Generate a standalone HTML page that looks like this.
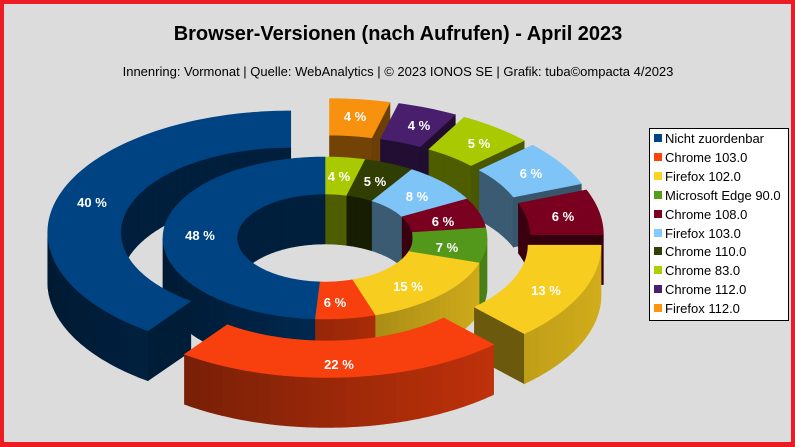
<!DOCTYPE html>
<html><head><meta charset="utf-8"><style>
html,body{margin:0;padding:0;background:#dcdcdc;}
svg{display:block;font-family:"Liberation Sans",sans-serif;}
</style></head><body>
<svg id="s" width="795" height="447" xmlns="http://www.w3.org/2000/svg">
<rect x="0" y="0" width="795" height="447" fill="#dcdcdc"/>
<g id="chart"></g>
<g id="labels" font-weight="bold" font-size="13" fill="#fff" text-anchor="middle">
<text x="92" y="207">40 %</text>
<text x="339" y="369">22 %</text>
<text x="546" y="295">13 %</text>
<text x="563" y="221">6 %</text>
<text x="531" y="178">6 %</text>
<text x="479" y="148">5 %</text>
<text x="419" y="130">4 %</text>
<text x="355" y="121">4 %</text>
<text x="200" y="240">48 %</text>
<text x="335" y="307">6 %</text>
<text x="408" y="291">15 %</text>
<text x="447" y="252">7 %</text>
<text x="443" y="226">6 %</text>
<text x="417" y="201">8 %</text>
<text x="375" y="186">5 %</text>
<text x="339" y="181">4 %</text>
</g>
<text x="398" y="40" text-anchor="middle" font-size="20" font-weight="bold" fill="#000">Browser-Versionen (nach Aufrufen) - April 2023</text>
<text x="398" y="76" text-anchor="middle" font-size="13" fill="#000">Innenring: Vormonat | Quelle: WebAnalytics | © 2023 IONOS SE | Grafik: tuba©ompacta 4/2023</text>
<rect x="649.5" y="128.5" width="139" height="192" fill="#fff" stroke="#000" stroke-width="1"/>
<g font-size="13" fill="#000">
<rect x="654" y="134" width="8" height="8" fill="#004586"/><text x="665" y="143">Nicht zuordenbar</text>
<rect x="654" y="153" width="8" height="8" fill="#ff420e"/><text x="665" y="162">Chrome 103.0</text>
<rect x="654" y="172" width="8" height="8" fill="#ffd320"/><text x="665" y="181">Firefox 102.0</text>
<rect x="654" y="191" width="8" height="8" fill="#579d1c"/><text x="665" y="200">Microsoft Edge 90.0</text>
<rect x="654" y="210" width="8" height="8" fill="#7e0021"/><text x="665" y="219">Chrome 108.0</text>
<rect x="654" y="229" width="8" height="8" fill="#83caff"/><text x="665" y="238">Firefox 103.0</text>
<rect x="654" y="247" width="8" height="8" fill="#314004"/><text x="665" y="256">Chrome 110.0</text>
<rect x="654" y="266" width="8" height="8" fill="#aecf00"/><text x="665" y="275">Chrome 83.0</text>
<rect x="654" y="285" width="8" height="8" fill="#4b1f6f"/><text x="665" y="294">Chrome 112.0</text>
<rect x="654" y="304" width="8" height="8" fill="#ff950e"/><text x="665" y="313">Firefox 112.0</text>
</g>
<rect x="2" y="2" width="791" height="442" fill="none" stroke="#ed1c24" stroke-width="4"/>
<rect x="0" y="443" width="795" height="4" fill="#ed1c24"/>
</svg>
<script>
(function(){
var G=document.getElementById('chart');var NS="http://www.w3.org/2000/svg";
var CX=325,CY=238,D=50;
function rgb(h){return [parseInt(h.substr(1,2),16),parseInt(h.substr(3,2),16),parseInt(h.substr(5,2),16)];}
function sh(h,f){var c=rgb(h);return 'rgb('+c.map(function(v){return Math.max(0,Math.min(255,Math.round(v*f)));}).join(',')+')';}
function P(cx,cy,r,t,dz){var a=t*Math.PI/180;return [cx+r*Math.sin(a),cy-r*0.5*Math.cos(a)+dz];}
function poly(pts,fill){var e=document.createElementNS(NS,'polygon');e.setAttribute('points',pts.map(function(p){return p[0].toFixed(2)+','+p[1].toFixed(2);}).join(' '));e.setAttribute('fill',fill);e.setAttribute('stroke',fill);e.setAttribute('stroke-width','0.6');G.appendChild(e);}
function arc(cx,cy,r,t1,t2,dz){var n=Math.max(2,Math.ceil(Math.abs(t2-t1)));var a=[];for(var i=0;i<=n;i++){a.push(P(cx,cy,r,t1+(t2-t1)*i/n,dz));}return a;}
function wall(cx,cy,r,t1,t2,col,outer){
  var lo,hi;
  if(outer){lo=Math.max(t1,90);hi=Math.min(t2,270);segs(lo,hi);}
  else{segs(Math.max(t1,-90),Math.min(t2,90));segs(Math.max(t1,270),Math.min(t2,450));}
  function segs(a,b){if(b<=a)return;var st=3;for(var t=a;t<b;t+=st){var u=Math.min(b,t+st);var m=(t+u)/2;
    var f=outer?(0.6+0.22*Math.sin(m*Math.PI/180)):0.45;
    var top=arc(cx,cy,r,t,u,0);var bot=arc(cx,cy,r,u,t,D);poly(top.concat(bot),sh(col,f));}}
}
function cut(cx,cy,ri,ro,t,col){var a=P(cx,cy,ri,t,0),b=P(cx,cy,ro,t,0);poly([a,b,[b[0],b[1]+D],[a[0],a[1]+D]],sh(col,0.42));}
function top(cx,cy,ri,ro,t1,t2,col){poly(arc(cx,cy,ro,t1,t2,0).concat(arc(cx,cy,ri,t2,t1,0)),sh(col,0.97));}
function slice(cx,cy,ri,ro,t1,t2,col,cs,ce){
  wall(cx,cy,ri,t1,t2,col,false);
  if(cs&&Math.sin(t1*Math.PI/180)<0)cut(cx,cy,ri,ro,t1,col);
  if(ce&&Math.sin(t2*Math.PI/180)>0)cut(cx,cy,ri,ro,t2,col);
  wall(cx,cy,ro,t1,t2,col,true);
  top(cx,cy,ri,ro,t1,t2,col);
}
var C={n:'#004586',c103:'#ff420e',f102:'#ffd320',e90:'#579d1c',c108:'#7e0021',f103:'#83caff',c110:'#314004',c83:'#aecf00',c112:'#4b1f6f',f112:'#ff950e'};
var outer=[['f112',4],['c112',4],['c83',5],['f103',6],['c108',6],['f102',13],['c103',22],['n',40]];
var inner=[['c83',4],['c110',5],['f103',8],['c108',6],['e90',7],['f102',15],['c103',6],['n',48]];
var E=36,RI=170,RO=243;
var os=[],acc=0;
outer.forEach(function(o){var t1=acc*3.6;acc+=o[1];var t2=acc*3.6;if(t2>360)t2=360;var m=(t1+t2)/2*Math.PI/180;
  os.push({t1:t1,t2:t2,col:C[o[0]],cx:CX+E*Math.sin(m),cy:CY-E*0.5*Math.cos(m)});});
for(var i=0;i<5;i++){var s=os[i];slice(s.cx,s.cy,RI,RO,s.t1,s.t2,s.col,true,true);}
var b=os[7];slice(b.cx,b.cy,RI,RO,270,360,b.col,false,true);
var is=[];acc=0;inner.forEach(function(o){var t1=acc*3.6;acc+=o[1];var t2=Math.min(360,acc*3.6);is.push([t1,t2,C[o[0]]]);});
is[is.length-1][1]=360;
var HI=88,HO=162;
is.forEach(function(s){wall(CX,CY,HI,s[0],s[1],s[2],false);});
is.forEach(function(s){wall(CX,CY,HO,s[0],s[1],s[2],true);});
is.forEach(function(s){top(CX,CY,HI,HO,s[0],s[1],s[2]);});
slice(b.cx,b.cy,RI,RO,b.t1,270,b.col,true,false);
var y=os[5];slice(y.cx,y.cy,RI,RO,y.t1,y.t2,y.col,true,true);
var r=os[6];slice(r.cx,r.cy,RI,RO,r.t1,r.t2,r.col,true,true);
})();
</script>
</body></html>
